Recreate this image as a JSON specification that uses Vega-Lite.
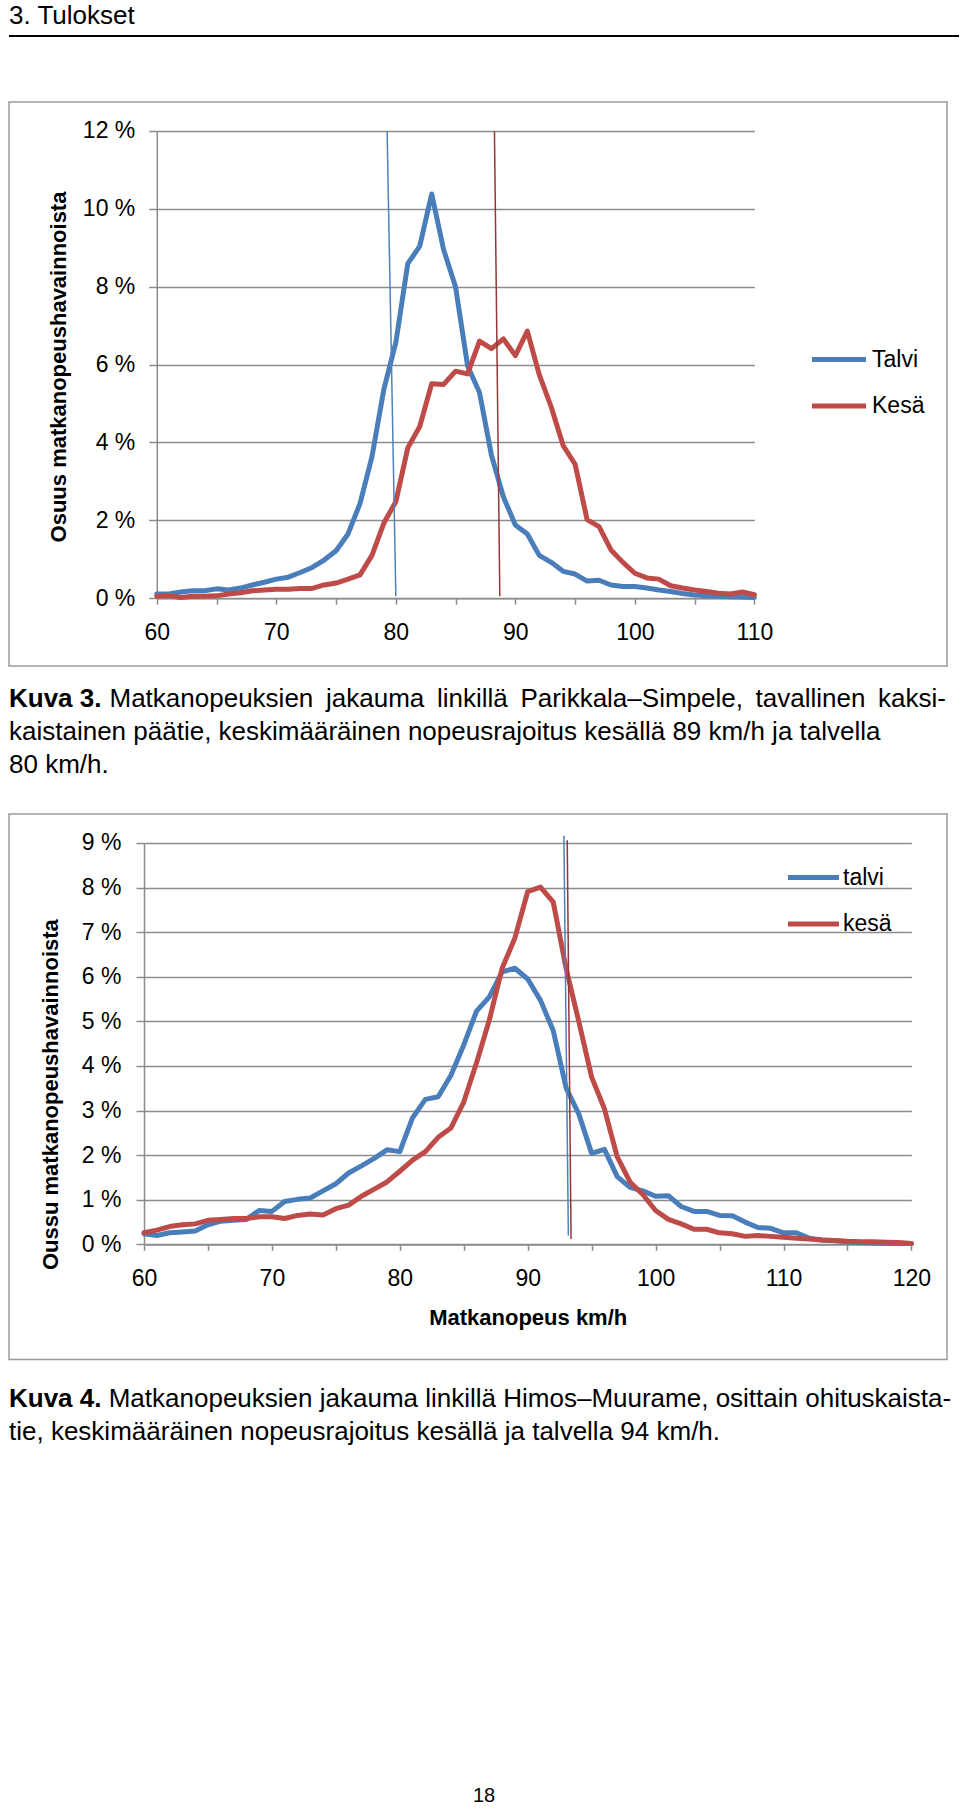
{
  "$schema": "https://vega.github.io/schema/vega-lite/v6.json",
  "background": "white",
  "padding": {"left": 8, "top": 0, "right": 2, "bottom": 0},
  "autosize": {"type": "pad"},
  "bounds": "flush",
  "spacing": 0,
  "resolve": {"scale": {"color": "independent"}, "legend": {"color": "independent"}},
  "config": {
    "font": "Liberation Sans",
    "view": {"stroke": null},
    "axis": {
      "domainColor": "#8C8C8C", "domainWidth": 1.5,
      "tickColor": "#8C8C8C", "tickWidth": 1.5,
      "gridColor": "#8C8C8C", "gridWidth": 1.5,
      "labelColor": "#000000", "labelFont": "Liberation Sans", "labelFontSize": 23,
      "titleColor": "#000000", "titleFont": "Liberation Sans", "titleFontSize": 22, "titleFontWeight": "bold",
      "labelFlush": false, "labelOverlap": false, "labelBound": false
    },
    "legend": {"labelColor": "#000000", "labelFont": "Liberation Sans", "labelFontSize": 23},
    "text": {"font": "Liberation Sans", "color": "#000000", "baseline": "alphabetic"}
  },
  "datasets": {
    "text": [
      {"fig": 0, "line": 1, "part": "body", "text": "3. Tulokset"},
      {"fig": 3, "line": 1, "part": "label", "text": "Kuva 3."},
      {"fig": 3, "line": 1, "part": "w1", "text": "Matkanopeuksien"},
      {"fig": 3, "line": 1, "part": "w2", "text": "jakauma"},
      {"fig": 3, "line": 1, "part": "w3", "text": "linkillä"},
      {"fig": 3, "line": 1, "part": "w4", "text": "Parikkala–Simpele,"},
      {"fig": 3, "line": 1, "part": "w5", "text": "tavallinen"},
      {"fig": 3, "line": 1, "part": "w6", "text": "kaksi-"},
      {"fig": 3, "line": 2, "part": "body", "text": "kaistainen päätie, keskimääräinen nopeusrajoitus kesällä 89 km/h ja talvella"},
      {"fig": 3, "line": 3, "part": "body", "text": "80 km/h."},
      {"fig": 4, "line": 1, "part": "label", "text": "Kuva 4."},
      {"fig": 4, "line": 1, "part": "rest", "text": "Matkanopeuksien jakauma linkillä Himos–Muurame, osittain ohituskaista-"},
      {"fig": 4, "line": 2, "part": "body", "text": "tie, keskimääräinen nopeusrajoitus kesällä ja talvella 94 km/h."},
      {"fig": 9, "line": 1, "part": "body", "text": "18"}
    ],
    "c1": [
      {"season": "Talvi", "speed": 60, "pct": 0.11}, {"season": "Talvi", "speed": 61, "pct": 0.11},
      {"season": "Talvi", "speed": 62, "pct": 0.16}, {"season": "Talvi", "speed": 63, "pct": 0.19},
      {"season": "Talvi", "speed": 64, "pct": 0.19}, {"season": "Talvi", "speed": 65, "pct": 0.24},
      {"season": "Talvi", "speed": 66, "pct": 0.21}, {"season": "Talvi", "speed": 67, "pct": 0.26},
      {"season": "Talvi", "speed": 68, "pct": 0.34}, {"season": "Talvi", "speed": 69, "pct": 0.41},
      {"season": "Talvi", "speed": 70, "pct": 0.49}, {"season": "Talvi", "speed": 71, "pct": 0.54},
      {"season": "Talvi", "speed": 72, "pct": 0.66}, {"season": "Talvi", "speed": 73, "pct": 0.79},
      {"season": "Talvi", "speed": 74, "pct": 0.98}, {"season": "Talvi", "speed": 75, "pct": 1.22},
      {"season": "Talvi", "speed": 76, "pct": 1.65}, {"season": "Talvi", "speed": 77, "pct": 2.43},
      {"season": "Talvi", "speed": 78, "pct": 3.63}, {"season": "Talvi", "speed": 79, "pct": 5.37},
      {"season": "Talvi", "speed": 80, "pct": 6.57}, {"season": "Talvi", "speed": 81, "pct": 8.59},
      {"season": "Talvi", "speed": 82, "pct": 9.04}, {"season": "Talvi", "speed": 83, "pct": 10.38},
      {"season": "Talvi", "speed": 84, "pct": 8.95}, {"season": "Talvi", "speed": 85, "pct": 7.99},
      {"season": "Talvi", "speed": 86, "pct": 5.97}, {"season": "Talvi", "speed": 87, "pct": 5.28},
      {"season": "Talvi", "speed": 88, "pct": 3.67}, {"season": "Talvi", "speed": 89, "pct": 2.6},
      {"season": "Talvi", "speed": 90, "pct": 1.88}, {"season": "Talvi", "speed": 91, "pct": 1.65},
      {"season": "Talvi", "speed": 92, "pct": 1.1}, {"season": "Talvi", "speed": 93, "pct": 0.92},
      {"season": "Talvi", "speed": 94, "pct": 0.69}, {"season": "Talvi", "speed": 95, "pct": 0.62},
      {"season": "Talvi", "speed": 96, "pct": 0.44}, {"season": "Talvi", "speed": 97, "pct": 0.46},
      {"season": "Talvi", "speed": 98, "pct": 0.34}, {"season": "Talvi", "speed": 99, "pct": 0.3},
      {"season": "Talvi", "speed": 100, "pct": 0.3}, {"season": "Talvi", "speed": 101, "pct": 0.26},
      {"season": "Talvi", "speed": 102, "pct": 0.21}, {"season": "Talvi", "speed": 103, "pct": 0.17},
      {"season": "Talvi", "speed": 104, "pct": 0.12}, {"season": "Talvi", "speed": 105, "pct": 0.08},
      {"season": "Talvi", "speed": 106, "pct": 0.06}, {"season": "Talvi", "speed": 107, "pct": 0.05},
      {"season": "Talvi", "speed": 108, "pct": 0.04}, {"season": "Talvi", "speed": 109, "pct": 0.03},
      {"season": "Talvi", "speed": 110, "pct": 0.02},
      {"season": "Kesä", "speed": 60, "pct": 0.05}, {"season": "Kesä", "speed": 61, "pct": 0.07},
      {"season": "Kesä", "speed": 62, "pct": 0.02}, {"season": "Kesä", "speed": 63, "pct": 0.05},
      {"season": "Kesä", "speed": 64, "pct": 0.05}, {"season": "Kesä", "speed": 65, "pct": 0.06},
      {"season": "Kesä", "speed": 66, "pct": 0.11}, {"season": "Kesä", "speed": 67, "pct": 0.14},
      {"season": "Kesä", "speed": 68, "pct": 0.19}, {"season": "Kesä", "speed": 69, "pct": 0.21},
      {"season": "Kesä", "speed": 70, "pct": 0.23}, {"season": "Kesä", "speed": 71, "pct": 0.23},
      {"season": "Kesä", "speed": 72, "pct": 0.25}, {"season": "Kesä", "speed": 73, "pct": 0.25},
      {"season": "Kesä", "speed": 74, "pct": 0.34}, {"season": "Kesä", "speed": 75, "pct": 0.39},
      {"season": "Kesä", "speed": 76, "pct": 0.49}, {"season": "Kesä", "speed": 77, "pct": 0.6},
      {"season": "Kesä", "speed": 78, "pct": 1.1}, {"season": "Kesä", "speed": 79, "pct": 1.93},
      {"season": "Kesä", "speed": 80, "pct": 2.48}, {"season": "Kesä", "speed": 81, "pct": 3.86},
      {"season": "Kesä", "speed": 82, "pct": 4.41}, {"season": "Kesä", "speed": 83, "pct": 5.51},
      {"season": "Kesä", "speed": 84, "pct": 5.49}, {"season": "Kesä", "speed": 85, "pct": 5.83},
      {"season": "Kesä", "speed": 86, "pct": 5.76}, {"season": "Kesä", "speed": 87, "pct": 6.6},
      {"season": "Kesä", "speed": 88, "pct": 6.41}, {"season": "Kesä", "speed": 89, "pct": 6.66},
      {"season": "Kesä", "speed": 90, "pct": 6.23}, {"season": "Kesä", "speed": 91, "pct": 6.86},
      {"season": "Kesä", "speed": 92, "pct": 5.74}, {"season": "Kesä", "speed": 93, "pct": 4.91},
      {"season": "Kesä", "speed": 94, "pct": 3.92}, {"season": "Kesä", "speed": 95, "pct": 3.44},
      {"season": "Kesä", "speed": 96, "pct": 2.02}, {"season": "Kesä", "speed": 97, "pct": 1.84},
      {"season": "Kesä", "speed": 98, "pct": 1.24}, {"season": "Kesä", "speed": 99, "pct": 0.92},
      {"season": "Kesä", "speed": 100, "pct": 0.64}, {"season": "Kesä", "speed": 101, "pct": 0.52},
      {"season": "Kesä", "speed": 102, "pct": 0.49}, {"season": "Kesä", "speed": 103, "pct": 0.32},
      {"season": "Kesä", "speed": 104, "pct": 0.26}, {"season": "Kesä", "speed": 105, "pct": 0.21},
      {"season": "Kesä", "speed": 106, "pct": 0.17}, {"season": "Kesä", "speed": 107, "pct": 0.13},
      {"season": "Kesä", "speed": 108, "pct": 0.11}, {"season": "Kesä", "speed": 109, "pct": 0.16},
      {"season": "Kesä", "speed": 110, "pct": 0.09}
    ],
    "c1ref": [
      {"season": "Talvi", "speed": 80, "pct": 0.05}, {"season": "Talvi", "speed": 79.27, "pct": 12},
      {"season": "Kesä", "speed": 88.7, "pct": 0.05}, {"season": "Kesä", "speed": 88.25, "pct": 12}
    ],
    "c2": [
      {"season": "talvi", "speed": 60, "pct": 0.24}, {"season": "talvi", "speed": 61, "pct": 0.2},
      {"season": "talvi", "speed": 62, "pct": 0.26}, {"season": "talvi", "speed": 63, "pct": 0.28},
      {"season": "talvi", "speed": 64, "pct": 0.3}, {"season": "talvi", "speed": 65, "pct": 0.44},
      {"season": "talvi", "speed": 66, "pct": 0.52}, {"season": "talvi", "speed": 67, "pct": 0.54},
      {"season": "talvi", "speed": 68, "pct": 0.56}, {"season": "talvi", "speed": 69, "pct": 0.76},
      {"season": "talvi", "speed": 70, "pct": 0.74}, {"season": "talvi", "speed": 71, "pct": 0.96},
      {"season": "talvi", "speed": 72, "pct": 1.01}, {"season": "talvi", "speed": 73, "pct": 1.04},
      {"season": "talvi", "speed": 74, "pct": 1.2}, {"season": "talvi", "speed": 75, "pct": 1.36},
      {"season": "talvi", "speed": 76, "pct": 1.6}, {"season": "talvi", "speed": 77, "pct": 1.76},
      {"season": "talvi", "speed": 78, "pct": 1.93}, {"season": "talvi", "speed": 79, "pct": 2.12},
      {"season": "talvi", "speed": 80, "pct": 2.08}, {"season": "talvi", "speed": 81, "pct": 2.84},
      {"season": "talvi", "speed": 82, "pct": 3.25}, {"season": "talvi", "speed": 83, "pct": 3.31},
      {"season": "talvi", "speed": 84, "pct": 3.79}, {"season": "talvi", "speed": 85, "pct": 4.47},
      {"season": "talvi", "speed": 86, "pct": 5.23}, {"season": "talvi", "speed": 87, "pct": 5.55},
      {"season": "talvi", "speed": 88, "pct": 6.11}, {"season": "talvi", "speed": 89, "pct": 6.19},
      {"season": "talvi", "speed": 90, "pct": 5.95}, {"season": "talvi", "speed": 91, "pct": 5.47},
      {"season": "talvi", "speed": 92, "pct": 4.79}, {"season": "talvi", "speed": 93, "pct": 3.51},
      {"season": "talvi", "speed": 94, "pct": 2.92}, {"season": "talvi", "speed": 95, "pct": 2.04},
      {"season": "talvi", "speed": 96, "pct": 2.13}, {"season": "talvi", "speed": 97, "pct": 1.52},
      {"season": "talvi", "speed": 98, "pct": 1.28}, {"season": "talvi", "speed": 99, "pct": 1.2},
      {"season": "talvi", "speed": 100, "pct": 1.08}, {"season": "talvi", "speed": 101, "pct": 1.09},
      {"season": "talvi", "speed": 102, "pct": 0.85}, {"season": "talvi", "speed": 103, "pct": 0.74},
      {"season": "talvi", "speed": 104, "pct": 0.74}, {"season": "talvi", "speed": 105, "pct": 0.65},
      {"season": "talvi", "speed": 106, "pct": 0.64}, {"season": "talvi", "speed": 107, "pct": 0.5},
      {"season": "talvi", "speed": 108, "pct": 0.38}, {"season": "talvi", "speed": 109, "pct": 0.36},
      {"season": "talvi", "speed": 110, "pct": 0.26}, {"season": "talvi", "speed": 111, "pct": 0.26},
      {"season": "talvi", "speed": 112, "pct": 0.14}, {"season": "talvi", "speed": 113, "pct": 0.1},
      {"season": "talvi", "speed": 114, "pct": 0.08}, {"season": "talvi", "speed": 115, "pct": 0.06},
      {"season": "talvi", "speed": 116, "pct": 0.04}, {"season": "talvi", "speed": 117, "pct": 0.03},
      {"season": "talvi", "speed": 118, "pct": 0.02}, {"season": "talvi", "speed": 119, "pct": 0.02},
      {"season": "talvi", "speed": 120, "pct": 0.02},
      {"season": "kesä", "speed": 60, "pct": 0.26}, {"season": "kesä", "speed": 61, "pct": 0.32},
      {"season": "kesä", "speed": 62, "pct": 0.4}, {"season": "kesä", "speed": 63, "pct": 0.44},
      {"season": "kesä", "speed": 64, "pct": 0.46}, {"season": "kesä", "speed": 65, "pct": 0.54},
      {"season": "kesä", "speed": 66, "pct": 0.56}, {"season": "kesä", "speed": 67, "pct": 0.58},
      {"season": "kesä", "speed": 68, "pct": 0.58}, {"season": "kesä", "speed": 69, "pct": 0.62},
      {"season": "kesä", "speed": 70, "pct": 0.62}, {"season": "kesä", "speed": 71, "pct": 0.58},
      {"season": "kesä", "speed": 72, "pct": 0.65}, {"season": "kesä", "speed": 73, "pct": 0.68},
      {"season": "kesä", "speed": 74, "pct": 0.66}, {"season": "kesä", "speed": 75, "pct": 0.8},
      {"season": "kesä", "speed": 76, "pct": 0.88}, {"season": "kesä", "speed": 77, "pct": 1.08},
      {"season": "kesä", "speed": 78, "pct": 1.24}, {"season": "kesä", "speed": 79, "pct": 1.4},
      {"season": "kesä", "speed": 80, "pct": 1.64}, {"season": "kesä", "speed": 81, "pct": 1.89},
      {"season": "kesä", "speed": 82, "pct": 2.08}, {"season": "kesä", "speed": 83, "pct": 2.4},
      {"season": "kesä", "speed": 84, "pct": 2.61}, {"season": "kesä", "speed": 85, "pct": 3.19},
      {"season": "kesä", "speed": 86, "pct": 4.07}, {"season": "kesä", "speed": 87, "pct": 5.03},
      {"season": "kesä", "speed": 88, "pct": 6.19}, {"season": "kesä", "speed": 89, "pct": 6.87},
      {"season": "kesä", "speed": 90, "pct": 7.91}, {"season": "kesä", "speed": 91, "pct": 8.01},
      {"season": "kesä", "speed": 92, "pct": 7.67}, {"season": "kesä", "speed": 93, "pct": 6.19},
      {"season": "kesä", "speed": 94, "pct": 4.99}, {"season": "kesä", "speed": 95, "pct": 3.75},
      {"season": "kesä", "speed": 96, "pct": 3.04}, {"season": "kesä", "speed": 97, "pct": 1.96},
      {"season": "kesä", "speed": 98, "pct": 1.4}, {"season": "kesä", "speed": 99, "pct": 1.12},
      {"season": "kesä", "speed": 100, "pct": 0.76}, {"season": "kesä", "speed": 101, "pct": 0.56},
      {"season": "kesä", "speed": 102, "pct": 0.46}, {"season": "kesä", "speed": 103, "pct": 0.34},
      {"season": "kesä", "speed": 104, "pct": 0.34}, {"season": "kesä", "speed": 105, "pct": 0.26},
      {"season": "kesä", "speed": 106, "pct": 0.24}, {"season": "kesä", "speed": 107, "pct": 0.18},
      {"season": "kesä", "speed": 108, "pct": 0.2}, {"season": "kesä", "speed": 109, "pct": 0.18},
      {"season": "kesä", "speed": 110, "pct": 0.16}, {"season": "kesä", "speed": 111, "pct": 0.14},
      {"season": "kesä", "speed": 112, "pct": 0.12}, {"season": "kesä", "speed": 113, "pct": 0.1},
      {"season": "kesä", "speed": 114, "pct": 0.09}, {"season": "kesä", "speed": 115, "pct": 0.07},
      {"season": "kesä", "speed": 116, "pct": 0.06}, {"season": "kesä", "speed": 117, "pct": 0.06},
      {"season": "kesä", "speed": 118, "pct": 0.05}, {"season": "kesä", "speed": 119, "pct": 0.04},
      {"season": "kesä", "speed": 120, "pct": 0.02}
    ],
    "c2ref": [
      {"season": "talvi", "speed": 93.18, "pct": 0.2}, {"season": "talvi", "speed": 92.83, "pct": 9.16},
      {"season": "kesä", "speed": 93.39, "pct": 0.12}, {"season": "kesä", "speed": 93.09, "pct": 9.06}
    ]
  },
  "vconcat": [
    {
      "width": 950, "height": 35,
      "data": {"name": "text"},
      "transform": [{"filter": "datum.fig == 0"}],
      "mark": {"type": "text", "align": "left", "fontSize": 26},
      "encoding": {
        "text": {"field": "text"},
        "x": {"value": 0},
        "y": {"field": "line", "type": "quantitative", "scale": {"domain": [0, 1], "range": [0, 23.5], "nice": false}, "axis": null}
      }
    },
    {
      "width": 950, "height": 2,
      "view": {"fill": "#000000", "stroke": null},
      "data": {"values": []},
      "mark": "point"
    },
    {
      "width": 950, "height": 64.5,
      "data": {"values": []},
      "mark": "point"
    },
    {
      "width": 938, "height": 564,
      "view": {"stroke": "#9A9A9A", "strokeWidth": 1.5},
      "layer": [
        {
          "data": {"name": "c1"},
          "mark": {"type": "line", "strokeWidth": 5, "strokeJoin": "round", "strokeCap": "round"},
          "encoding": {
            "x": {"field": "speed", "type": "quantitative",
              "scale": {"domain": [60, 110], "range": [147.8, 745.4], "nice": false, "zero": false},
              "axis": {"orient": "bottom", "offset": -67.8, "values": [60, 65, 70, 75, 80, 85, 90, 95, 100, 105, 110],
                "labelExpr": "datum.value % 10 == 0 ? datum.label : ''", "grid": false, "tickSize": 6, "labelPadding": 17, "title": null}},
            "y": {"field": "pct", "type": "quantitative",
              "scale": {"domain": [0, 12], "range": [496.2, 28.9], "nice": false},
              "axis": {"orient": "left", "offset": -147.8, "values": [0, 2, 4, 6, 8, 10, 12],
                "labelExpr": "datum.value + ' %'", "grid": true, "tickSize": 8, "labelPadding": 14,
                "title": "Osuus matkanopeushavainnoista", "titleX": -98.1, "titleY": 264.5, "titleAngle": 270,
                "titleAlign": "center", "titleBaseline": "middle"}},
            "color": {"field": "season", "type": "nominal", "sort": ["Talvi", "Kesä"],
              "scale": {"domain": ["Talvi", "Kesä"], "range": ["#4A7EBB", "#BE4B48"]},
              "legend": {"orient": "none", "legendX": 800.5, "legendY": 228, "title": null, "symbolType": "stroke",
                "symbolStrokeWidth": 5, "symbolSize": 2916, "labelOffset": 3.5, "rowPadding": 4.5, "padding": 0}}
          }
        },
        {
          "data": {"name": "c1ref"},
          "transform": [{"filter": "datum.season == 'Talvi'"}],
          "mark": {"type": "line", "strokeWidth": 1.5, "color": "#4F81BD"},
          "encoding": {"x": {"field": "speed", "type": "quantitative"}, "y": {"field": "pct", "type": "quantitative"}}
        },
        {
          "data": {"name": "c1ref"},
          "transform": [{"filter": "datum.season == 'Kesä'"}],
          "mark": {"type": "line", "strokeWidth": 1.5, "color": "#953735"},
          "encoding": {"x": {"field": "speed", "type": "quantitative"}, "y": {"field": "pct", "type": "quantitative"}}
        }
      ]
    },
    {
      "width": 950, "height": 147.9,
      "data": {"name": "text"},
      "transform": [{"filter": "datum.fig == 3"}],
      "layer": [
        {
          "transform": [{"filter": "datum.part == 'label'"}],
          "mark": {"type": "text", "align": "left", "fontSize": 26, "fontWeight": "bold"},
          "encoding": {"text": {"field": "text"}, "x": {"value": 0},
            "y": {"field": "line", "type": "quantitative", "scale": {"domain": [1, 3], "range": [40.5, 106.5], "nice": false, "zero": false}, "axis": null}}
        },
        {
          "transform": [{"filter": "datum.part == 'w1'"}],
          "mark": {"type": "text", "align": "left", "fontSize": 26, "dx": 100.5},
          "encoding": {"text": {"field": "text"}, "x": {"value": 0}, "y": {"field": "line", "type": "quantitative", "axis": null}}
        },
        {
          "transform": [{"filter": "datum.part == 'w2'"}],
          "mark": {"type": "text", "align": "left", "fontSize": 26, "dx": 317},
          "encoding": {"text": {"field": "text"}, "x": {"value": 0}, "y": {"field": "line", "type": "quantitative", "axis": null}}
        },
        {
          "transform": [{"filter": "datum.part == 'w3'"}],
          "mark": {"type": "text", "align": "left", "fontSize": 26, "dx": 427.9},
          "encoding": {"text": {"field": "text"}, "x": {"value": 0}, "y": {"field": "line", "type": "quantitative", "axis": null}}
        },
        {
          "transform": [{"filter": "datum.part == 'w4'"}],
          "mark": {"type": "text", "align": "left", "fontSize": 26, "dx": 511.4},
          "encoding": {"text": {"field": "text"}, "x": {"value": 0}, "y": {"field": "line", "type": "quantitative", "axis": null}}
        },
        {
          "transform": [{"filter": "datum.part == 'w5'"}],
          "mark": {"type": "text", "align": "left", "fontSize": 26, "dx": 746.6},
          "encoding": {"text": {"field": "text"}, "x": {"value": 0}, "y": {"field": "line", "type": "quantitative", "axis": null}}
        },
        {
          "transform": [{"filter": "datum.part == 'w6'"}],
          "mark": {"type": "text", "align": "right", "fontSize": 26, "dx": 937},
          "encoding": {"text": {"field": "text"}, "x": {"value": 0}, "y": {"field": "line", "type": "quantitative", "axis": null}}
        },
        {
          "transform": [{"filter": "datum.part == 'body'"}],
          "mark": {"type": "text", "align": "left", "fontSize": 26},
          "encoding": {"text": {"field": "text"}, "x": {"value": 0}, "y": {"field": "line", "type": "quantitative", "axis": null}}
        }
      ]
    },
    {
      "width": 938, "height": 545.6,
      "view": {"stroke": "#9A9A9A", "strokeWidth": 1.5},
      "layer": [
        {
          "data": {"name": "c2"},
          "mark": {"type": "line", "strokeWidth": 5, "strokeJoin": "round", "strokeCap": "round"},
          "encoding": {
            "x": {"field": "speed", "type": "quantitative",
              "scale": {"domain": [60, 120], "range": [135, 902.4], "nice": false, "zero": false},
              "axis": {"orient": "bottom", "offset": -115.2, "values": [60, 65, 70, 75, 80, 85, 90, 95, 100, 105, 110, 115, 120],
                "labelExpr": "datum.value % 10 == 0 ? datum.label : ''", "grid": false, "tickSize": 6, "labelPadding": 17,
                "title": "Matkanopeus km/h", "titleX": 518.7, "titleY": 72.7, "titleAlign": "center", "titleBaseline": "middle", "titleAngle": 0}},
            "y": {"field": "pct", "type": "quantitative",
              "scale": {"domain": [0, 9], "range": [430.4, 28.9], "nice": false},
              "axis": {"orient": "left", "offset": -135, "values": [0, 1, 2, 3, 4, 5, 6, 7, 8, 9],
                "labelExpr": "datum.value + ' %'", "grid": true, "tickSize": 8, "labelPadding": 15,
                "title": "Oussu matkanopeushavainnoista", "titleX": -93.4, "titleY": 280.1, "titleAngle": 270,
                "titleAlign": "center", "titleBaseline": "middle"}},
            "color": {"field": "season", "type": "nominal", "sort": ["talvi", "kesä"],
              "scale": {"domain": ["talvi", "kesä"], "range": ["#4A7EBB", "#BE4B48"]},
              "legend": {"orient": "none", "legendX": 776.5, "legendY": 35.6, "title": null, "symbolType": "stroke",
                "symbolStrokeWidth": 5, "symbolSize": 2601, "labelOffset": 1.5, "rowPadding": 6.5, "padding": 0}}
          }
        },
        {
          "data": {"name": "c2ref"},
          "transform": [{"filter": "datum.season == 'talvi'"}],
          "mark": {"type": "line", "strokeWidth": 1.5, "color": "#4F81BD"},
          "encoding": {"x": {"field": "speed", "type": "quantitative"}, "y": {"field": "pct", "type": "quantitative"}}
        },
        {
          "data": {"name": "c2ref"},
          "transform": [{"filter": "datum.season == 'kesä'"}],
          "mark": {"type": "line", "strokeWidth": 1.5, "color": "#953735"},
          "encoding": {"x": {"field": "speed", "type": "quantitative"}, "y": {"field": "pct", "type": "quantitative"}}
        }
      ]
    },
    {
      "width": 950, "height": 401,
      "data": {"name": "text"},
      "transform": [{"filter": "datum.fig == 4"}],
      "layer": [
        {
          "transform": [{"filter": "datum.part == 'label'"}],
          "mark": {"type": "text", "align": "left", "fontSize": 26, "fontWeight": "bold"},
          "encoding": {"text": {"field": "text"}, "x": {"value": 0},
            "y": {"field": "line", "type": "quantitative", "scale": {"domain": [1, 2], "range": [47, 80], "nice": false, "zero": false}, "axis": null}}
        },
        {
          "transform": [{"filter": "datum.part == 'rest'"}],
          "mark": {"type": "text", "align": "left", "fontSize": 26, "dx": 99.7},
          "encoding": {"text": {"field": "text"}, "x": {"value": 0}, "y": {"field": "line", "type": "quantitative", "axis": null}}
        },
        {
          "transform": [{"filter": "datum.part == 'body'"}],
          "mark": {"type": "text", "align": "left", "fontSize": 26},
          "encoding": {"text": {"field": "text"}, "x": {"value": 0}, "y": {"field": "line", "type": "quantitative", "axis": null}}
        }
      ]
    },
    {
      "width": 950, "height": 49,
      "data": {"name": "text"},
      "transform": [{"filter": "datum.fig == 9"}],
      "mark": {"type": "text", "align": "center", "fontSize": 20},
      "encoding": {
        "text": {"field": "text"},
        "x": {"field": "text", "type": "nominal", "scale": {"type": "point"}, "axis": null},
        "y": {"field": "line", "type": "quantitative", "scale": {"domain": [0, 1], "range": [0, 41], "nice": false}, "axis": null}
      }
    }
  ]
}
